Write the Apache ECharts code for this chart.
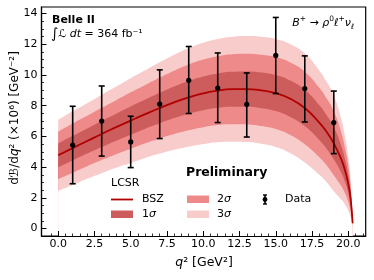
<!DOCTYPE html>
<html><head><meta charset="utf-8">
<script src="https://cdn.jsdelivr.net/npm/echarts@6/dist/echarts.min.js"></script>
<style>html,body{margin:0;padding:0;background:#fff}#c{width:374px;height:280px}</style>
</head><body><div id="c"></div>
<script>
// LCSR (BSZ) prediction
const curveQ2     = [0, 1, 2, 3, 4, 5, 6, 7, 8, 9, 10, 11, 12, 13, 14, 15, 16, 17, 18, 18.5, 19, 19.5, 19.8, 20.0, 20.15, 20.3];
const curveCenter = [4.77, 5.24, 5.7, 6.16, 6.6, 7.03, 7.45, 7.85, 8.22, 8.54, 8.8, 8.98, 9.07, 9.08, 9.0, 8.82, 8.45, 7.85, 6.9, 6.3, 5.55, 4.55, 3.7, 2.9, 2.05, 0.35];
const curveSigma  = [0.77, 0.8, 0.82, 0.85, 0.88, 0.92, 0.95, 0.99, 1.03, 1.07, 1.1, 1.12, 1.14, 1.15, 1.16, 1.17, 1.18, 1.18, 1.13, 1.09, 1.04, 0.88, 0.72, 0.58, 0.42, 0.05];
// Data points
const dataQ2  = [1, 3, 5, 7, 9, 11, 13, 15, 17, 19];
const dataVal = [5.44, 7.0, 5.64, 8.11, 9.65, 9.15, 8.09, 11.27, 9.11, 6.9];
const dataLo  = [2.92, 4.72, 3.97, 5.86, 7.49, 6.9, 5.96, 8.79, 6.94, 4.88];
const dataHi  = [7.96, 9.28, 7.31, 10.33, 11.85, 11.43, 10.13, 13.74, 11.24, 8.95];
// Ticks
const xMajorTicks = [0, 2.5, 5, 7.5, 10, 12.5, 15, 17.5, 20];
const xMinorTicks = [-0.5, 0, 0.5, 1, 1.5, 2, 2.5, 3, 3.5, 4, 4.5, 5, 5.5, 6, 6.5, 7, 7.5, 8, 8.5, 9, 9.5, 10, 10.5, 11, 11.5, 12, 12.5, 13, 13.5, 14, 14.5, 15, 15.5, 16, 16.5, 17, 17.5, 18, 18.5, 19, 19.5, 20, 20.5, 21];
const yMajorTicks = [0, 2, 4, 6, 8, 10, 12, 14];
const yMinorTicks = [0, 0.5, 1, 1.5, 2, 2.5, 3, 3.5, 4, 4.5, 5, 5.5, 6, 6.5, 7, 7.5, 8, 8.5, 9, 9.5, 10, 10.5, 11, 11.5, 12, 12.5, 13, 13.5, 14];

const C_LINE = '#b00000', C1 = '#cd5c5c', C2 = '#ee8a8a', C3 = '#f9cccc';
const FONT = 'DejaVu Sans';

const chart = echarts.init(document.getElementById('c'), null, {renderer: 'canvas'});

const XMIN = -1.15, XMAX = 21.2, YMIN = -0.48, YMAX = 14.42;
const baseAxisX = {type: 'value', min: XMIN, max: XMAX, gridIndex: 0, position: 'bottom', splitLine: {show: false}, z: 10};
const baseAxisY = {type: 'value', min: YMIN, max: YMAX, gridIndex: 0, position: 'left', splitLine: {show: false}, z: 10};

// Nested bands drawn as filled boundaries (outermost first), lowest boundary filled white
const bandLayers = [[3, C3], [2, C2], [1, C1], [-1, C2], [-2, C3], [-3, '#ffffff']];
const series = bandLayers.map(([k, col]) => ({
  type: 'line', smooth: true, showSymbol: false, symbol: 'none', silent: true, z: 1,
  lineStyle: {width: 0, opacity: 0},
  areaStyle: {color: col, opacity: 1, origin: 'start'},
  data: curveQ2.map((q, i) => [q, curveCenter[i] + k * curveSigma[i]])
}));
series.push({
  type: 'line', smooth: true, showSymbol: false, symbol: 'none', z: 3,
  lineStyle: {color: C_LINE, width: 1.8},
  data: curveQ2.map((q, i) => [q, curveCenter[i]])
});
series.push({
  type: 'custom', z: 5,
  encode: {x: 0, y: 1},
  data: dataQ2.map((q, i) => [q, dataVal[i], dataLo[i], dataHi[i]]),
  renderItem: function (params, api) {
    const x = api.value(0), y = api.value(1), lo = api.value(2), hi = api.value(3);
    const p = api.coord([x, y]), pl = api.coord([x, lo]), ph = api.coord([x, hi]);
    const st = {stroke: '#000', lineWidth: 1.6};
    return {type: 'group', children: [
      {type: 'line', shape: {x1: pl[0], y1: pl[1], x2: ph[0], y2: ph[1]}, style: st},
      {type: 'line', shape: {x1: pl[0] - 3, y1: pl[1], x2: pl[0] + 3, y2: pl[1]}, style: st},
      {type: 'line', shape: {x1: ph[0] - 3, y1: ph[1], x2: ph[0] + 3, y2: ph[1]}, style: st},
      {type: 'circle', shape: {cx: p[0], cy: p[1], r: 2.6}, style: {fill: '#000'}}
    ]};
  }
});

const txt = (x, y, text, extra) => Object.assign({
  type: 'text', x: x, y: y, z: 100,
  style: Object.assign({text: text, font: '11px "DejaVu Sans"', fill: '#000', verticalAlign: 'middle', align: 'left'}, extra || {})
});
const sig = (x, y, n) => ({type: 'text', x: x, y: y, z: 100, style: {text: n + '{i|σ}', font: '11px "DejaVu Sans"', fill: '#000', verticalAlign: 'middle', rich: {i: {fontFamily: FONT, fontSize: 11, fontStyle: 'italic', fill: '#000'}}}});

const graphic = [
  txt(52, 20, 'Belle II', {font: 'bold 11px "DejaVu Sans"'}),
  {type: 'text', x: 51, y: 34, z: 100, style: {
    text: '{int|∫}{a|ℒ }{i|dt}{a| = 364 fb⁻¹}', verticalAlign: 'middle', align: 'left',
    rich: {int: {fontFamily: FONT, fontSize: 14, fill: '#000'}, a: {fontFamily: FONT, fontSize: 11, fill: '#000'}, i: {fontFamily: FONT, fontSize: 11, fontStyle: 'italic', fill: '#000'}}
  }},
  {type: 'text', x: 354, y: 23, z: 100, style: {
    text: '{i|B}{sp|+}{a| → }{i|ρ}{sp|0}{i|ℓ}{sp|+}{i|ν}{sb|ℓ}', verticalAlign: 'middle', align: 'right',
    rich: {
      a: {fontFamily: FONT, fontSize: 11, fill: '#000', lineHeight: 16},
      i: {fontFamily: FONT, fontSize: 11, fontStyle: 'italic', fill: '#000', lineHeight: 16},
      sp: {fontFamily: FONT, fontSize: 7.5, fill: '#000', verticalAlign: 'top', lineHeight: 9},
      sb: {fontFamily: FONT, fontSize: 7.5, fontStyle: 'italic', fill: '#000', verticalAlign: 'bottom', lineHeight: 9}
    }
  }},
  {type: 'text', x: 15, y: 118, rotation: Math.PI / 2, z: 100, style: {
    text: '{a|d}{i|ℬ}{a|/d}{i|q}{a|² (×10⁶) [GeV⁻²]}', verticalAlign: 'middle', align: 'center',
    rich: {a: {fontFamily: FONT, fontSize: 12, fill: '#000'}, i: {fontFamily: FONT, fontSize: 12, fontStyle: 'italic', fill: '#000'}}
  }},
  {type: 'text', x: 204, y: 263, z: 100, style: {
    text: '{i|q}{a|² [GeV²]}', verticalAlign: 'middle', align: 'center',
    rich: {a: {fontFamily: FONT, fontSize: 12.5, fill: '#000'}, i: {fontFamily: FONT, fontSize: 12.5, fontStyle: 'italic', fill: '#000'}}
  }},
  txt(186, 173, 'Preliminary', {font: 'bold 12.5px "DejaVu Sans"'}),
  txt(111, 183.5, 'LCSR'),
  {type: 'line', z: 100, shape: {x1: 111, y1: 199.5, x2: 133, y2: 199.5}, style: {stroke: C_LINE, lineWidth: 1.8}},
  txt(142, 199.5, 'BSZ'),
  {type: 'rect', z: 100, shape: {x: 111, y: 210.5, width: 22, height: 7.5}, style: {fill: C1}},
  sig(142, 214.5, '1'),
  {type: 'rect', z: 100, shape: {x: 187, y: 195.5, width: 22, height: 7.5}, style: {fill: C2}},
  sig(217, 199.5, '2'),
  {type: 'rect', z: 100, shape: {x: 187, y: 210.5, width: 22, height: 7.5}, style: {fill: C3}},
  sig(217, 214.5, '3'),
  {type: 'line', z: 100, shape: {x1: 265, y1: 195, x2: 265, y2: 204}, style: {stroke: '#000', lineWidth: 1.6}},
  {type: 'line', z: 100, shape: {x1: 263, y1: 195, x2: 267, y2: 195}, style: {stroke: '#000', lineWidth: 1.4}},
  {type: 'line', z: 100, shape: {x1: 263, y1: 204, x2: 267, y2: 204}, style: {stroke: '#000', lineWidth: 1.4}},
  {type: 'circle', z: 100, shape: {cx: 265, cy: 199.5, r: 2.4}, style: {fill: '#000'}},
  txt(285, 199.5, 'Data')
];

chart.setOption({
  animation: false,
  backgroundColor: '#fff',
  grid: {left: 41.5, right: 8.3, top: 7, bottom: 44, show: true, borderColor: '#000', borderWidth: 1.2, backgroundColor: 'transparent'},
  xAxis: [
    Object.assign({}, baseAxisX, {
      axisLine: {show: true, onZero: false, lineStyle: {color: '#000', width: 1.2}},
      axisTick: {show: true, inside: true, length: 5, lineStyle: {color: '#000', width: 1}, customValues: xMajorTicks},
      axisLabel: {show: true, margin: 3, color: '#000', fontFamily: FONT, fontSize: 11, customValues: xMajorTicks, formatter: v => v.toFixed(1)}
    }),
    Object.assign({}, baseAxisX, {
      axisLine: {show: false, onZero: false},
      axisTick: {show: true, inside: true, length: 2.5, lineStyle: {color: '#000', width: 0.8}, customValues: xMinorTicks},
      axisLabel: {show: false}
    })
  ],
  yAxis: [
    Object.assign({}, baseAxisY, {
      axisLine: {show: true, onZero: false, lineStyle: {color: '#000', width: 1.2}},
      axisTick: {show: true, inside: true, length: 5, lineStyle: {color: '#000', width: 1}, customValues: yMajorTicks},
      axisLabel: {show: true, margin: 4, color: '#000', fontFamily: FONT, fontSize: 11, customValues: yMajorTicks, formatter: v => String(v)}
    }),
    Object.assign({}, baseAxisY, {
      axisLine: {show: false, onZero: false},
      axisTick: {show: true, inside: true, length: 2.5, lineStyle: {color: '#000', width: 0.8}, customValues: yMinorTicks},
      axisLabel: {show: false}
    })
  ],
  series: series,
  graphic: graphic
});
</script>
</body></html>
